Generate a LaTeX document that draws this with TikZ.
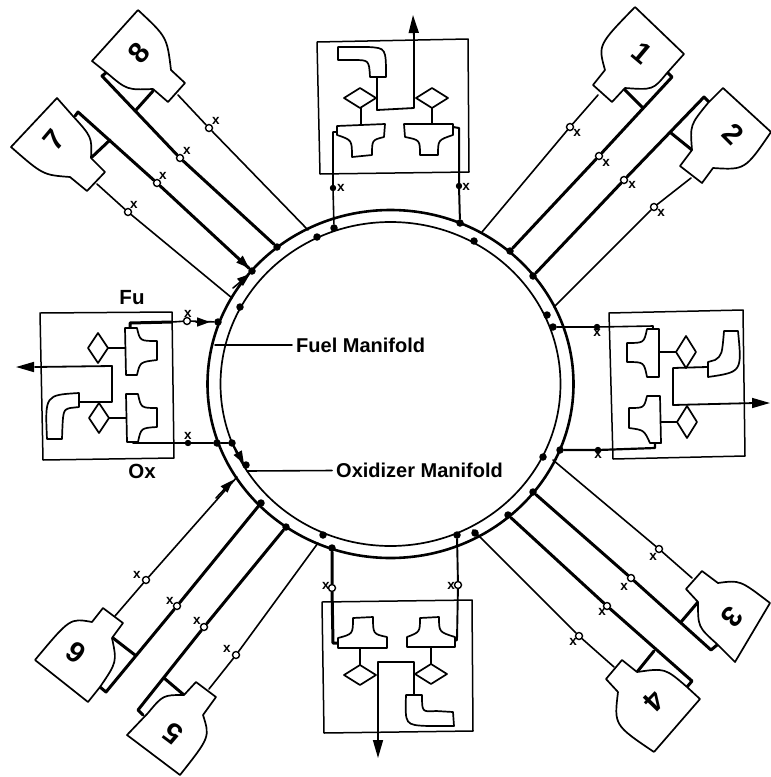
\documentclass[tikz,border=0pt]{standalone}
\usepackage{fontspec}
\setmainfont{Liberation Sans}
\usetikzlibrary{arrows.meta}
\tikzset{
  x=1pt,y=-1pt,
  thinln/.style={line width=1.6pt,line cap=round,line join=round},
  thickln/.style={line width=3pt,line cap=round,line join=round},
  eng/.style={line width=1.7pt,line join=round,fill=white},
  box/.style={line width=1.5pt,line join=round},
  part/.style={line width=1.7pt,line join=round,fill=white},
  valve/.style={circle,draw,line width=1.4pt,fill=white,minimum size=7pt,inner sep=0pt},
  fvalve/.style={circle,draw,fill=black,line width=0.8pt,minimum size=5.5pt,inner sep=0pt},
  jdot/.style={circle,fill=black,minimum size=7.5pt,inner sep=0pt},
  xm/.style={font=\fontsize{13.5}{13.5}\selectfont\bfseries,inner sep=0pt},
  digit/.style={font=\fontsize{29}{29}\selectfont\bfseries,inner sep=0pt},
  lab/.style={font=\fontsize{20}{20}\selectfont\bfseries,inner sep=4pt,anchor=west},
  blab/.style={font=\fontsize{20.5}{20.5}\selectfont\bfseries,inner sep=0pt},
  bigarrow/.style={-{Triangle[length=18pt,width=10pt]}},
  smallarrow/.style={-{Triangle[length=13pt,width=9pt]}}
}
\begin{document}
\begin{tikzpicture}
\useasboundingbox (0,0) rectangle (771,777);
% manifold rings
\draw[line width=2.6pt] (390.5,384) ellipse [x radius=183,y radius=174];
\draw[line width=1.7pt] (390.5,384) ellipse [x radius=170,y radius=162];

% ---------- junctions on the ring
\node[jdot] (j1) at (510,251) {};
\node[jdot] (j2) at (533,276) {};
\node[jdot] (j3) at (533,492) {};
\node[jdot] (j4) at (508,515) {};
\node[jdot] (j5) at (286,527) {};
\node[jdot] (j6) at (261,503) {};
\node[jdot] (j7) at (252,271) {};
\node[jdot] (j8) at (277,247) {};
\node[jdot] (jt1) at (334,228) {};
\node[jdot] (jt2) at (460,223) {};
\node[jdot] (jb1) at (332,548) {};
\node[jdot] (jb2) at (457,535) {};
\node[jdot] (jl1) at (218,322) {};
\node[jdot] (jl2) at (217,443) {};
\node[jdot] (jl3) at (232,443) {};
\node[jdot] (jr1) at (553,327) {};
\node[jdot] (jr2) at (560,450) {};
\node[jdot] (i1) at (474,241) {};
\node[jdot] (i2) at (547,315) {};
\node[jdot] (i3) at (543,457) {};
\node[jdot] (i4) at (475,533) {};
\node[jdot] (i5) at (323,535) {};
\node[jdot] (i6) at (246,465) {};
\node[jdot] (i7) at (240,307) {};
\node[jdot] (i8) at (317,237) {};
\coordinate (r1) at (482,232);
\coordinate (r2) at (554,307);
\coordinate (r3) at (553,460);
\coordinate (r4) at (473,530);
\coordinate (r5) at (318,543);
\coordinate (r6) at (237,477);
\coordinate (r7) at (232,298);
\coordinate (r8) at (308,230);

% ---------- engine 1
\node[valve] (v1a) at (570,127) {}; \node[xm] (x1a) at (577,133) {x};
\node[valve] (v1b) at (599,156) {}; \node[xm] (x1b) at (606,163) {x};
\coordinate (p1) at (598,95);
\draw[thinln] (r1) -- (v1a) -- (p1);
\draw[thickln] (j1) -- (v1b) -- (672,77) -- (667,72);
\draw[thickln] (625,90) -- (642,107);
\draw[eng] (635,7) -- (684,54) -- (667,73) .. controls (653,90) .. (625,88) -- (612,102) -- (593,85) -- (605,70) .. controls (598,45) .. (635,7);
\node[digit,rotate=-40] (n1) at (642,53) {1};

% ---------- engine 2
\node[valve] (v2a) at (654,207) {}; \node[xm] (x2a) at (661,213) {x};
\node[valve] (v2b) at (624,180) {}; \node[xm] (x2b) at (632,185) {x};
\coordinate (p2) at (691,178);
\draw[thinln] (r2) -- (v2a) -- (p2);
\draw[thickln] (j2) -- (v2b) -- (704,97) -- (709,102);
\draw[thickln] (671,133) -- (692,150);
\draw[eng] (771,132) -- (723,88) -- (708,103) .. controls (690,125) .. (692,150) -- (680,166) -- (702,183) -- (713,168) .. controls (745,170) .. (771,132);
\node[digit,rotate=-45] (n2) at (733,134) {2};

% ---------- engine 3
\node[valve] (v3a) at (659,549) {}; \node[xm] (x3a) at (653,557) {x};
\node[valve] (v3b) at (631,578) {}; \node[xm] (x3b) at (624,587) {x};
\coordinate (p3) at (692,578);
\draw[thinln] (r3) -- (v3a) -- (p3);
\draw[thickln] (j3) -- (v3b) -- (711,650) -- (717,645);
\draw[thickln] (698,602) -- (681,622);
\draw[eng] (735,662) -- (717,644) .. controls (698,627) .. (698,602) -- (686,589) -- (702,571) -- (718,583) .. controls (740,580) .. (770,603) -- cycle;
\node[digit,rotate=-129] (n3) at (732,617) {3};

% ---------- engine 4
\node[valve] (v4a) at (579,636) {}; \node[xm] (x4a) at (573,642) {x};
\node[valve] (v4b) at (607,606) {}; \node[xm] (x4b) at (602,612) {x};
\coordinate (p4) at (614,667);
\draw[thinln] (r4) -- (v4a) -- (p4);
\draw[thickln] (j4) -- (v4b) -- (692,681) -- (687,687);
\draw[thickln] (637,672) -- (654,651);
\draw[eng] (654,752) -- (700,699) -- (687,687) .. controls (665,668) .. (637,672) -- (622,660) -- (606,679) -- (618,692) .. controls (614,725) .. (654,752);
\node[digit,rotate=-134] (n4) at (654,701) {4};

% ---------- engine 5
\node[valve] (v5a) at (236,655) {}; \node[xm] (x5a) at (227,649) {x};
\node[valve] (v5b) at (204,627) {}; \node[xm] (x5b) at (197,621) {x};
\coordinate (p5) at (209,689);
\draw[thinln] (r5) -- (v5a) -- (p5);
\draw[thickln] (j5) -- (v5b) -- (138,710) -- (143,715);
\draw[thickln] (164,678) -- (184,695);
\draw[eng] (127,735) -- (180,775) .. controls (210,737) .. (203,715) -- (216,697) -- (196,682) -- (184,695) .. controls (163,695) .. (148,713) -- cycle;
\node[digit,rotate=143] (n5) at (173,733) {5};

% ---------- engine 6
\node[valve] (v6a) at (146,580) {}; \node[xm] (x6a) at (137,575) {x};
\node[valve] (v6b) at (177,606) {}; \node[xm] (x6b) at (170,601) {x};
\coordinate (p6) at (115,616);
\draw[thinln] (r6) -- (v6a) -- (p6);
\draw[thickln] (j6) -- (v6b) -- (106,692) -- (100,687);
\draw[thickln] (113,638) -- (135,655);
\draw[eng] (35,660) -- (88,702) -- (100,687) .. controls (117,662) .. (112,638) -- (123,623) -- (103,608) -- (92,622) .. controls (70,618) .. (35,660);
\node[digit,rotate=143] (n6) at (76,653) {6};

% ---------- engine 7
\node[valve] (v7a) at (128,212) {}; \node[xm] (x7a) at (134,205) {x};
\node[valve] (v7b) at (157,183) {}; \node[xm] (x7b) at (163,176) {x};
\coordinate (p7) at (97,184);
\draw[thinln] (r7) -- (v7a) -- (p7);
\draw[thickln] (j7) -- (v7b) -- (78,112) -- (75,116);
\draw[thickln] (92,157) -- (110,140);
\draw[eng] (57,98) -- (72,115) .. controls (92,137) .. (91,158) -- (105,172) -- (87,191) -- (70,177) .. controls (43,175) .. (11,147) -- cycle;
\node[digit,rotate=50] (n7) at (54,140) {7};

% ---------- engine 8
\node[valve] (v8a) at (209,128) {}; \node[xm] (x8a) at (216,121) {x};
\node[valve] (v8b) at (180,158) {}; \node[xm] (x8b) at (187,151) {x};
\coordinate (p8) at (178,95);
\draw[thinln] (r8) -- (v8a) -- (p8);
\draw[thickln] (j8) -- (v8b) -- (102,76) -- (107,72);
\draw[thickln] (153,91) -- (136,110);
\draw[eng] (138,10) -- (92,61) -- (107,73) .. controls (127,90) .. (153,89) -- (168,102) -- (185,83) -- (171,70) .. controls (167,37) .. (138,10);
\node[digit,rotate=50] (n8) at (139,53) {8};

% ---------- ring-mounted arrowheads
\draw[thinln,smallarrow] (233,288) -- (250,274);
\draw[thinln,smallarrow] (234,254) -- (249,268);
\draw[thinln,smallarrow] (234,446) -- (244,464);
\draw[thinln,smallarrow] (216,498) -- (233,480);

% ---------- top pump box
\draw[box] (317,42) -- (468,39) -- (469,172) -- (320,174) -- cycle;
\draw[part] (338,47) -- (368,47) .. controls (386,48) .. (386,77) -- (370,77) .. controls (369,60) .. (353,60) -- (338,60) -- cycle;
\coordinate (tpe) at (413,15);
\draw[thinln,line width=1.8pt] (377,77) -- (377,110) -- (414,108) -- (414,33);
\draw[thinln,bigarrow] (414,40) -- (tpe);
\draw[part] (344,98) -- (360,88) -- (376,98) -- (360,108) -- cycle;
\draw[part] (416,98) -- (432,88) -- (448,98) -- (432,108) -- cycle;
\draw[thinln] (361,108) -- (361,125);
\draw[thinln] (432,108) -- (432,123);
\draw[part] (337,126) -- (385,124) -- (384,137) .. controls (372,140) .. (372,155) -- (352,157) .. controls (352,140) .. (337,135) -- cycle;
\draw[part] (404,124) -- (453,124) -- (453,135) .. controls (438,140) .. (438,155) -- (420,155) .. controls (420,140) .. (405,137) -- cycle;
\node[valve,fvalve] (vt1) at (333,188) {}; \node[xm] (xt1) at (341,188) {x};
\node[valve,fvalve] (vt2) at (459,186) {}; \node[xm] (xt2) at (466,187) {x};
\draw[thinln] (337,132) -- (333,132) -- (vt1) -- (jt1);
\draw[thinln,line width=2pt] (453,127) -- (459,128) -- (vt2) -- (jt2);

% ---------- bottom pump box
\draw[box] (322,602) -- (472,600) -- (473,731) -- (324,733) -- cycle;
\draw[part] (338,648) -- (387,648) -- (387,637) .. controls (373,634) .. (373,617) -- (353,618) .. controls (353,634) .. (338,638) -- cycle;
\draw[part] (407,647) -- (455,647) -- (455,637) .. controls (439,632) .. (439,617) -- (420,618) .. controls (420,632) .. (407,637) -- cycle;
\draw[thinln] (360,649) -- (360,666);
\draw[thinln] (431,648) -- (431,664);
\draw[part] (344,675) -- (360,665) -- (376,675) -- (360,685) -- cycle;
\draw[part] (415,674) -- (431,664) -- (447,674) -- (431,684) -- cycle;
\coordinate (bpe) at (378,758);
\draw[thinln,line width=1.8pt] (414,695) -- (414,662) -- (378,662) -- (378,745);
\draw[thinln,bigarrow] (378,735) -- (bpe);
\draw[part] (406,695) -- (422,695) .. controls (422,712) .. (436,711) -- (453,712) -- (454,726) -- (428,726) .. controls (405,725) .. (406,695) -- cycle;
\node[valve] (vb1) at (332,588) {}; \node[xm] (xb1) at (326,586) {x};
\node[valve] (vb2) at (458,585) {}; \node[xm] (xb2) at (451,586) {x};
\draw[thickln] (337,643) -- (333,643) -- (vb1) -- (jb1);
\draw[thinln,line width=1.9pt] (455,641) -- (457,640) -- (vb2) -- (jb2);

% ---------- left pump box
\draw[box] (40,313) -- (172,312) -- (174,458) -- (43,460) -- cycle;
\draw[part] (125,328) -- (137,328) .. controls (140,341) .. (157,341) -- (157,360) .. controls (140,362) .. (137,375) -- (126,375) -- cycle;
\draw[part] (126,394) -- (138,394) .. controls (141,408) .. (157,408) -- (157,427) .. controls (141,428) .. (138,442) -- (127,442) -- cycle;
\draw[thinln] (108,348) -- (125,348);
\draw[thinln] (109,418) -- (126,418);
\draw[part] (88,348) -- (98,333) -- (108,348) -- (98,363) -- cycle;
\draw[part] (89,418) -- (99,403) -- (109,418) -- (99,433) -- cycle;
\coordinate (lpe) at (16,367);
\draw[thinln,line width=1.8pt] (79,402) -- (112,402) -- (112,366) -- (35,367);
\draw[thinln,bigarrow] (30,367) -- (lpe);
\draw[part] (79,393) -- (79,407) -- (70,408) .. controls (63,410) .. (62,439) -- (47,439) .. controls (45,395) .. (79,393) -- cycle;
\node[valve] (vl1) at (187,321) {}; \node[xm] (xl1) at (188,314) {x};
\node[valve,fvalve] (vl2) at (188,443) {}; \node[xm] (xl2) at (188,436) {x};
\draw[thickln] (130,327) -- (130,323) -- (172,322);
\draw[thinln] (172,322) -- (vl1) -- (jl1);
\draw[thinln,smallarrow] (196,322) -- (210,322);
\draw[thinln,line width=1.9pt] (133,443) -- (vl2) -- (jl2) -- (jl3);

% ---------- right pump box
\draw[box] (609,313) -- (743,310) -- (745,456) -- (613,459) -- cycle;
\draw[part] (659,329) -- (647,329) .. controls (644,343) .. (627,343) -- (627,362) .. controls (644,362) .. (647,377) -- (659,377) -- cycle;
\draw[part] (660,396) -- (647,396) .. controls (644,408) .. (629,408) -- (629,428) .. controls (644,430) .. (650,443) -- (661,443) -- cycle;
\draw[thinln] (660,352) -- (677,352);
\draw[thinln] (661,422) -- (677,422);
\draw[part] (676,352) -- (686,336) -- (696,352) -- (686,368) -- cycle;
\draw[part] (677,422) -- (687,406) -- (697,422) -- (687,438) -- cycle;
\coordinate (rpe) at (770,403);
\draw[thinln,line width=1.8pt] (707,367) -- (673,368) -- (673,405) -- (755,403);
\draw[thinln,bigarrow] (750,403) -- (rpe);
\draw[part] (708,362) -- (715,360) .. controls (722,355) .. (724,331) -- (738,331) .. controls (742,372) .. (708,377) -- cycle;
\node[valve,fvalve] (vr1) at (597,327) {}; \node[xm] (xr1) at (597,333) {x};
\node[valve,fvalve] (vr2) at (598,450) {}; \node[xm] (xr2) at (598,455) {x};
\draw[thinln] (653,328) -- (653,326) -- (vr1) -- (jr1);
\draw[thinln,line width=2.2pt] (655,444) -- (655,448) -- (vr2) -- (jr2);

% ---------- labels
\node[blab] (fu) at (132,298) {Fu};
\node[blab] (ox) at (142,471) {Ox};
\node[lab] (fm) at (292,345) {Fuel Manifold};
\node[lab] (om) at (332,470) {Oxidizer Manifold};
\coordinate (fmr) at (215,345);
\coordinate (omr) at (247,471);
\draw[thinln] (fmr) -- (fm);
\draw[thinln] (omr) -- (om);
\end{tikzpicture}
\end{document}
